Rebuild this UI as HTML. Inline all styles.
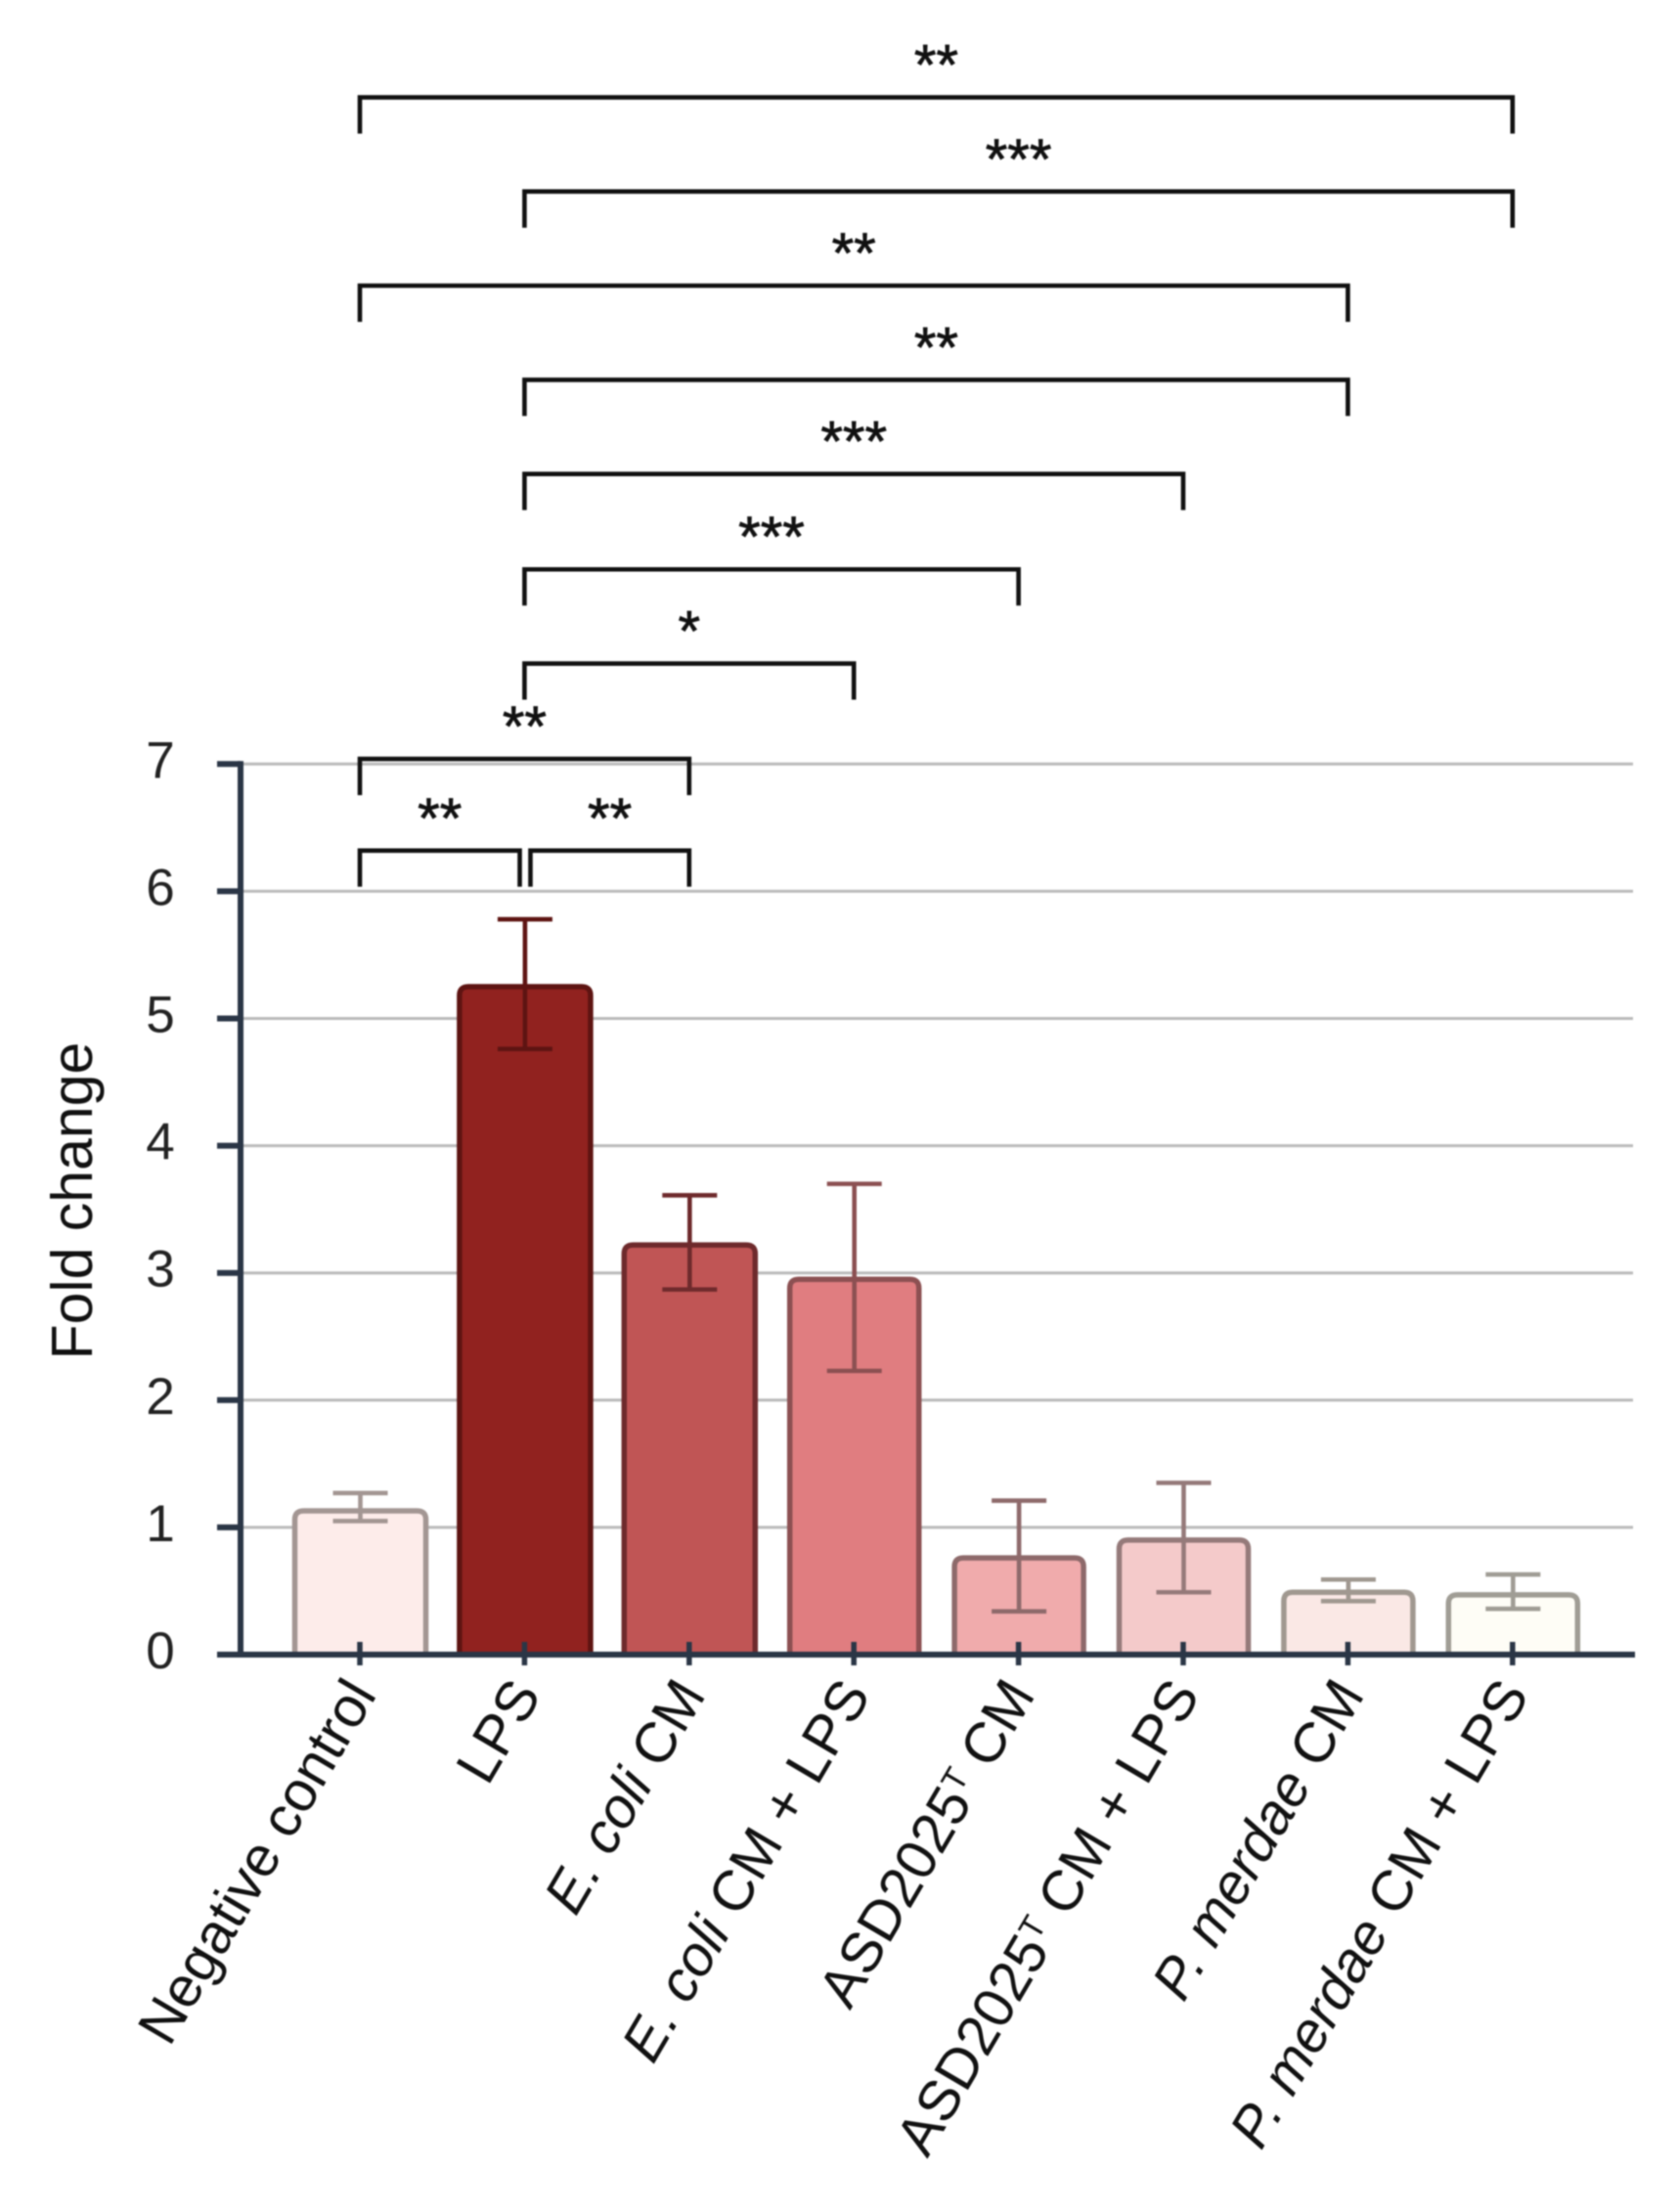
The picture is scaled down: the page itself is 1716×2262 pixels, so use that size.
<!DOCTYPE html>
<html lang="en">
<head>
<meta charset="utf-8">
<title>Fold change bar chart</title>
<style>
  html, body { margin: 0; padding: 0; background: #ffffff; }
  svg { display: block; font-family: "Liberation Sans", sans-serif; filter: blur(0.7px); }
</style>
</head>
<body>
<svg id="chart" width="1716" height="2262" viewBox="0 0 1716 2262" xmlns="http://www.w3.org/2000/svg"></svg>
<script>
// ---- data ----
const categories = ["Negative control", "LPS", "<i>E. coli</i> CM", "<i>E. coli</i> CM + LPS", "ASD2025<sup>T</sup> CM", "ASD2025<sup>T</sup> CM + LPS", "<i>P. merdae</i> CM", "<i>P. merdae</i> CM + LPS"];
const foldChange = [1.13, 5.25, 3.22, 2.95, 0.76, 0.90, 0.49, 0.47];
const errorHigh = [1.27, 5.78, 3.61, 3.70, 1.21, 1.35, 0.59, 0.63];
const errorLow = [1.05, 4.76, 2.87, 2.23, 0.34, 0.49, 0.42, 0.36];
const yTicks = [0, 1, 2, 3, 4, 5, 6, 7];
const bracketFrom = [0, 1, 0, 1, 1, 1, 1, 0, 0, 1.036];
const bracketTo = [7, 7, 6, 6, 5, 4, 3, 2, 0.971, 2];
const bracketLevel = [12.24, 11.50, 10.76, 10.02, 9.28, 8.53, 7.79, 7.04, 6.32, 6.32];
const bracketStars = ["**", "***", "**", "**", "***", "***", "*", "**", "**", "**"];

// ---- palette ----
const fills = ["#fdecea", "#91221f", "#c05555", "#e07d80", "#f0abac", "#f4caca", "#fae8e5", "#fefdf6"];
const strokes = ["#a39693", "#5e1412", "#6e2a2c", "#8c5052", "#8e6a6b", "#957a7a", "#a09890", "#a09d95"];

// ---- axis functions ----
const yScale = v => 1692 - v * 130.1;
const xScale = i => 368 + i * 168.4;

const svg = document.getElementById('chart');
const NS = 'http://www.w3.org/2000/svg';
function make(tag, attrs, parent) {
  const el = document.createElementNS(NS, tag);
  for (const k in attrs) el.setAttribute(k, attrs[k]);
  (parent || svg).appendChild(el);
  return el;
}

// gridlines
yTicks.forEach(t => {
  if (t === 0) return;
  const grid = make('line', { x1: 246, x2: 1670, y1: yScale(t), y2: yScale(t), stroke: '#bababa', 'stroke-width': 3 });
  
  
});

// bars
categories.forEach((c, i) => {
  const cx = xScale(i) + 0.5;
  const half = i < 3 ? 67 : 66;
  const top = yScale(foldChange[i]);
  const base = yScale(0);
  const r = 9;
  const d = `M${cx - half} ${base}V${top + r}Q${cx - half} ${top} ${cx - half + r} ${top}H${cx + half - r}Q${cx + half} ${top} ${cx + half} ${top + r}V${base}`;
  const bar = make('path', { d: d, fill: fills[i], stroke: strokes[i], 'stroke-width': 5.5 });
  
  
});

// error bars
categories.forEach((c, i) => {
  const cx = xScale(i) + 0.5;
  const g = make('g', { stroke: strokes[i], 'stroke-width': 4.6, fill: 'none' });
  
  
  make('line', { x1: cx, x2: cx, y1: yScale(errorHigh[i]), y2: yScale(errorLow[i]) }, g);
  make('line', { x1: cx - 28, x2: cx + 28, y1: yScale(errorHigh[i]), y2: yScale(errorHigh[i]) }, g);
  make('line', { x1: cx - 28, x2: cx + 28, y1: yScale(errorLow[i]), y2: yScale(errorLow[i]) }, g);
});

// axes
const yAxisLine = make('line', { x1: 246, x2: 246, y1: yScale(7) - 3, y2: yScale(0) + 3, stroke: '#2b3646', 'stroke-width': 6 });


const xAxisLine = make('line', { x1: 222, x2: 1672, y1: yScale(0), y2: yScale(0), stroke: '#2b3646', 'stroke-width': 6 });



yTicks.forEach(t => {
  const tick = make('line', { x1: 222, x2: 246, y1: yScale(t), y2: yScale(t), stroke: '#2b3646', 'stroke-width': 6 });
  
  
  const label = make('text', { x: 164, y: yScale(t) + 14, 'text-anchor': 'middle', 'font-size': 53, fill: '#222222' });
  label.textContent = t;
  
  
});

categories.forEach((c, i) => {
  const tick = make('line', { x1: xScale(i), x2: xScale(i), y1: 1679, y2: 1703, stroke: '#2b3646', 'stroke-width': 5.5 });
  
  
});

// x labels
const labelNudge = 18;
categories.forEach((c, i) => {
  const px = xScale(i) + labelNudge;
  const py = 1733;
  const text = make('text', { transform: `translate(${px} ${py}) rotate(-59.5)`, 'text-anchor': 'end', 'font-size': 58, fill: '#111111' });
  
  
  c.split(/(<i>.*?<\/i>|<sup>.*?<\/sup>)/).filter(Boolean).forEach(part => {
    const span = make('tspan', {}, text);
    if (part.startsWith('<i>')) {
      span.setAttribute('font-style', 'italic');
      span.textContent = part.replace(/<\/?i>/g, '');
    } else if (part.startsWith('<sup>')) {
      span.setAttribute('baseline-shift', '48%');
      span.setAttribute('font-size', '34');
      span.textContent = part.replace(/<\/?sup>/g, '');
    } else {
      span.textContent = part;
    }
  });
});

// y-axis title
const yTitle = make('text', { transform: 'translate(94 1228) rotate(-90)', 'text-anchor': 'middle', 'font-size': 59, fill: '#111111' });
yTitle.textContent = 'Fold change';



// significance brackets
bracketStars.forEach((s, i) => {
  const x1 = xScale(bracketFrom[i]);
  const x2 = xScale(bracketTo[i]);
  const y = yScale(bracketLevel[i]);
  const br = make('path', { d: `M${x1} ${y + 37}V${y}H${x2}V${y + 37}`, fill: 'none', stroke: '#111111', 'stroke-width': 4.6 });
  
  
  const star = make('text', { x: (x1 + x2) / 2, y: y - 13, 'text-anchor': 'middle', 'font-size': 58, fill: '#111111', stroke: '#111111', 'stroke-width': 0.8 });
  star.textContent = s;
  
  
});
</script>
</body>
</html>
